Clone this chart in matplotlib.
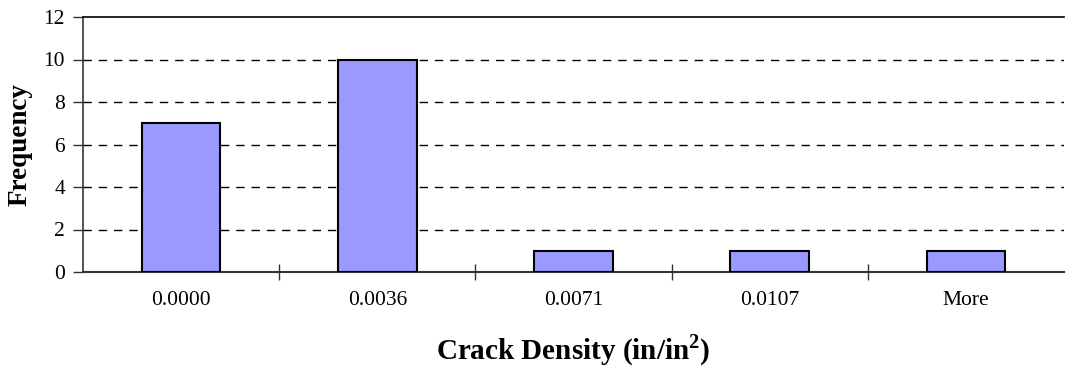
import matplotlib.pyplot as plt
import numpy as np

# bins and counts (Excel histogram)
categories = ['0.0000', '0.0036', '0.0071', '0.0107', 'More']
frequency = [7, 10, 1, 1, 1]

plt.rcParams['font.family'] = ['Liberation Serif', 'DejaVu Serif']
plt.rcParams['mathtext.fontset'] = 'custom'
plt.rcParams['mathtext.rm'] = 'Liberation Serif'
plt.rcParams['mathtext.bf'] = 'Liberation Serif:bold'

fig = plt.figure(figsize=(10.73, 3.68), dpi=100)
ax = fig.add_axes([83 / 1073, 1 - 272 / 368, (1064 - 83) / 1073, (272 - 17) / 368])

x = np.arange(len(categories))
ax.bar(x, frequency, width=0.4, color='#9999FF', edgecolor='black', linewidth=1.5, zorder=3)

ax.set_xlim(-0.5, len(categories) - 0.5)
ax.set_ylim(0, 12)
ax.set_yticks(range(0, 13, 2))
ax.set_xticks(x)
ax.set_xticklabels(categories)
ax.tick_params(axis='x', length=0, pad=14, labelsize=15.5)
# tick marks between categories
ax.set_xticks(np.arange(0.5, len(categories) - 0.5, 1), minor=True)
ax.tick_params(axis='x', which='minor', direction='inout', length=12, width=1, color='#333333')
ax.tick_params(axis='y', direction='out', length=7, width=1, labelsize=15.5, pad=6, color='#333333')

for yv in range(2, 12, 2):
    ax.axhline(yv, color='black', linestyle=(0, (6, 5)), linewidth=1, zorder=1)

ax.spines['right'].set_visible(False)
ax.spines['top'].set_linewidth(1.2)
ax.spines['left'].set_linewidth(1.2)
ax.spines['bottom'].set_linewidth(1.5)
ax.spines['left'].set_color('#333333')
ax.spines['bottom'].set_color('#333333')

ax.set_xlabel('Crack Density (in/in$^{\\mathbf{2}}$)', fontsize=21, fontweight='bold', labelpad=16)
ax.set_ylabel('Frequency', fontsize=19.5, fontweight='bold', va='center')
ax.yaxis.set_label_coords(-0.064, 0.5)

fig.savefig('out.png', dpi=100)
